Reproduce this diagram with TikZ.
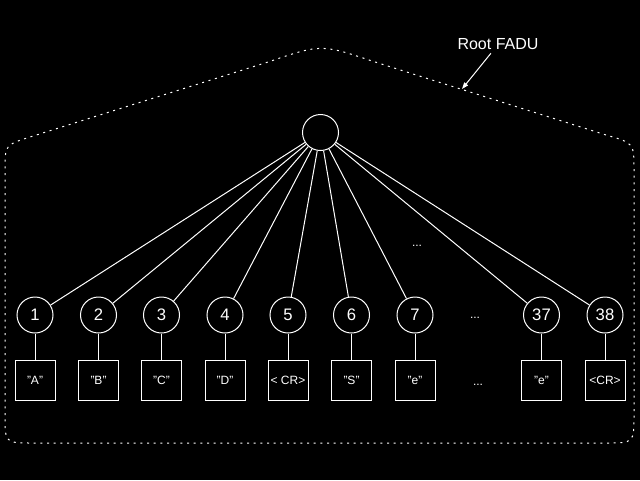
\documentclass[tikz,border=0pt]{standalone}
\usepackage{fontspec}
\setmainfont{Liberation Sans}
\usetikzlibrary{arrows.meta}

\begin{document}
\begin{tikzpicture}[x=0.75pt, y=-0.75pt, line width=0.75pt, color=white,
	fadu/.style={draw, circle, minimum size=27pt, inner sep=0pt, font=\fontsize{12.5}{12.5}\selectfont},
	entry/.style={draw, rectangle, minimum width=30pt, minimum height=30.5pt, inner sep=0pt, font=\fontsize{9}{9}\selectfont},
	boundary/.style={dash pattern=on 1.5pt off 3.5pt}]
			%%%%% START %%%%%
			
			\fill[black] (0, 0) rectangle (640, 480);
			
			\draw[boundary] (5, 415) -- (5, 170) .. controls (5, 145) .. (30, 137) -- (268, 62) .. controls (321, 44) .. (372, 61) -- (606, 135) .. controls (634, 143) .. (634, 170) -- (634, 415) .. controls (634, 443) .. (606, 443) -- (33, 443) .. controls (5, 443) .. (5, 415);
			
			\node[fadu] (root) at (320.5, 132.5) {};
			
			\node[fadu] (c1) at (35, 315) {1};
			\node[fadu] (c2) at (98.5, 315) {2};
			\node[fadu] (c3) at (161.5, 315) {3};
			\node[fadu] (c4) at (225, 315) {4};
			\node[fadu] (c5) at (288, 315) {5};
			\node[fadu] (c6) at (351.5, 315) {6};
			\node[fadu] (c7) at (415, 315) {7};
			\node[fadu] (c37) at (541.5, 315) {37};
			\node[fadu] (c38) at (605, 315) {38};
			
			\node[entry] (b1) at (35, 380.5) {"A"};
			\node[entry] (b2) at (98.5, 380.5) {"B"};
			\node[entry] (b3) at (161.5, 380.5) {"C"};
			\node[entry] (b4) at (225, 380.5) {"D"};
			\node[entry] (b5) at (288, 380.5) {< CR>};
			\node[entry] (b6) at (351.5, 380.5) {"S"};
			\node[entry] (b7) at (415, 380.5) {"e"};
			\node[entry] (b37) at (541.5, 380.5) {"e"};
			\node[entry] (b38) at (605, 380.5) {<CR>};
			
			\draw (root) -- (c1);
			\draw (root) -- (c2);
			\draw (root) -- (c3);
			\draw (root) -- (c4);
			\draw (root) -- (c5);
			\draw (root) -- (c6);
			\draw (root) -- (c7);
			\draw (root) -- (c37);
			\draw (root) -- (c38);
			
			\draw (c1) -- (b1);
			\draw (c2) -- (b2);
			\draw (c3) -- (b3);
			\draw (c4) -- (b4);
			\draw (c5) -- (b5);
			\draw (c6) -- (b6);
			\draw (c7) -- (b7);
			\draw (c37) -- (b37);
			\draw (c38) -- (b38);
			
			\node[font=\fontsize{9}{9}\selectfont] (dotsmid) at (417, 246) {...};
			\node[font=\fontsize{9}{9}\selectfont] (dotsc) at (475, 318) {...};
			\node[font=\fontsize{9}{9}\selectfont] (dotsb) at (478, 385) {...};
			
			\node[font=\fontsize{12}{12}\selectfont, inner sep=2pt] (label) at (498, 44.5) {Root FADU};
			\coordinate (tip) at (462, 89);
			\draw[-{Triangle[length=5pt, width=3.5pt]}] (label) -- (tip);
			
			%%%%% END %%%%%
\end{tikzpicture}
\end{document}
